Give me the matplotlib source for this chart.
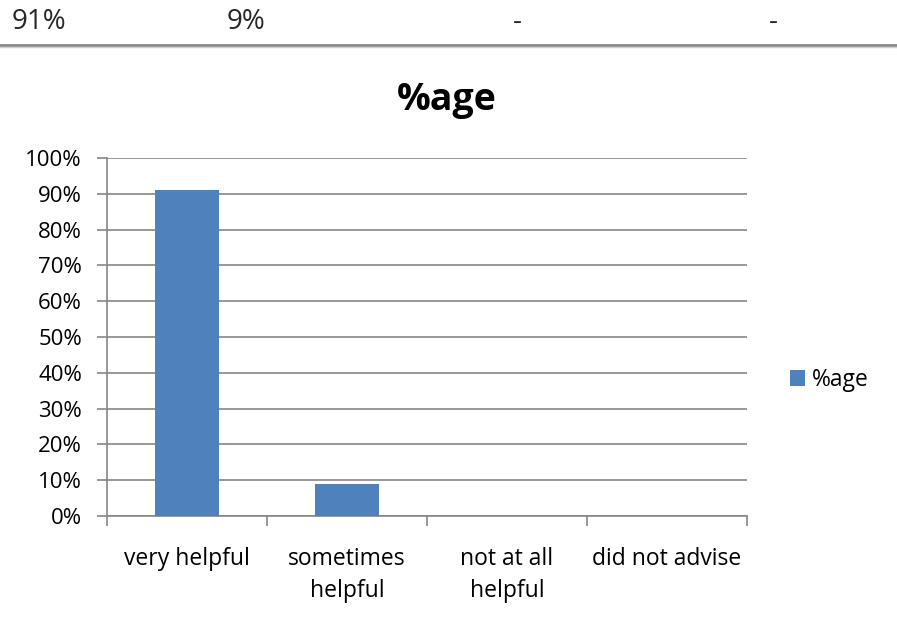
import matplotlib
matplotlib.use('Agg')
import matplotlib.pyplot as plt
import numpy as np
from matplotlib.ticker import PercentFormatter, FixedLocator

plt.rcParams['font.family'] = ['Open Sans', 'DejaVu Sans']

categories = ['very helpful', 'sometimes\nhelpful', 'not at all\nhelpful', 'did not advise']
values = [91, 9, 0, 0]
table_row = ['91%', '9%', '-', '-']
series_name = '%age'

bar_color = '#4F81BD'
grid_color = '#868686'

fig = plt.figure(figsize=(8.97, 6.29), dpi=100)

# summary row above the chart
for txt, xpos, ha in zip(table_row, [12, 227, 517, 773], ['left', 'left', 'center', 'center']):
    fig.text(xpos / 897, 1 - 22 / 629, txt, fontsize=20, color='#262626',
             va='center', ha=ha)
fig.add_artist(plt.Line2D([0, 1], [1 - 45 / 629] * 2, color='#888888', lw=2))
fig.add_artist(plt.Line2D([0, 1], [1 - 47 / 629] * 2, color='#d0d0d0', lw=1))

ax = fig.add_axes([107 / 897, 1 - 516 / 629, 640 / 897, 358 / 629])
x = np.arange(len(categories))
ax.bar(x, values, width=0.4, color=bar_color, label=series_name, zorder=3)

ax.set_xlim(-0.5, len(categories) - 0.5)
ax.set_ylim(0, 100)
ax.yaxis.set_major_locator(FixedLocator(np.arange(0, 101, 10)))
ax.yaxis.set_major_formatter(PercentFormatter(decimals=0))
ax.grid(axis='y', color=grid_color, lw=1.2, zorder=0)

ax.set_xticks(x)
ax.set_xticklabels(categories, fontsize=16.5, linespacing=1.45)
ax.xaxis.set_minor_locator(FixedLocator(np.arange(-0.5, len(categories), 1)))
ax.tick_params(axis='x', which='major', length=0, pad=22)
ax.tick_params(axis='x', which='minor', length=7, width=1.2, color=grid_color)
ax.tick_params(axis='y', length=7, width=1.2, color=grid_color, labelsize=16, pad=11)

for side in ['top', 'right']:
    ax.spines[side].set_visible(False)
for side in ['left', 'bottom']:
    ax.spines[side].set_color(grid_color)
    ax.spines[side].set_linewidth(1.2)

fig.text(447 / 897, 1 - 100 / 629, series_name, fontsize=27, fontweight='bold',
         ha='center', va='center')

ax.legend(loc='center left', bbox_to_anchor=(790 / 897, 1 - 380 / 629),
          bbox_transform=fig.transFigure, frameon=False, fontsize=16.5,
          handlelength=0.65, handleheight=0.65, handletextpad=0.3,
          borderpad=0, borderaxespad=0)

fig.savefig('out.png', dpi=100)
